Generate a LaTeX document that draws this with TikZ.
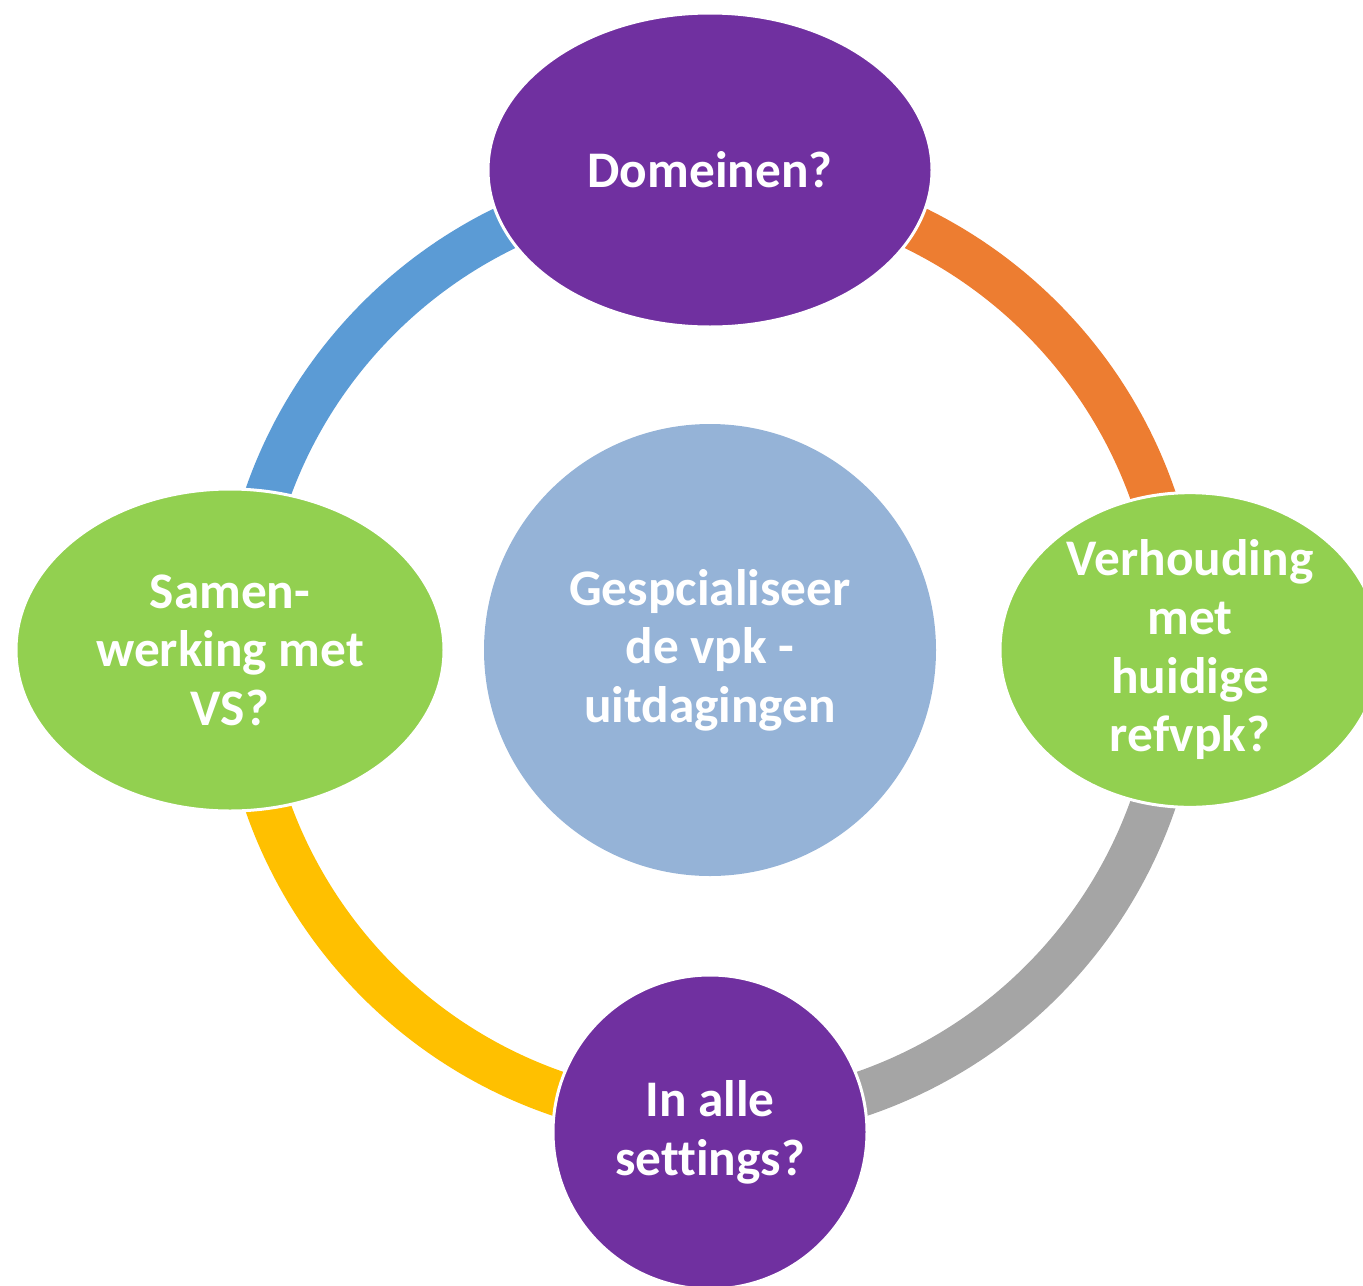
\documentclass[tikz,border=0pt]{standalone}
\usepackage{fontspec}
\setmainfont{Carlito}[Ligatures=NoCommon]
\usepackage{tikz}
\usetikzlibrary{shapes.geometric,backgrounds}

\begin{document}
\begin{tikzpicture}[x=0.75pt,y=0.75pt,yscale=-1,xscale=1,
    blob/.style={ellipse, inner sep=0pt, draw=white, line width=2.25pt, text=white, align=center, font=\bfseries\fontsize{38.5}{44}\selectfont},
    ringarc/.style={line width=33.75pt}]
\useasboundingbox (0,0) rectangle (1363,1285);
\clip (0,0) rectangle (1363,1285);
%Center circle
\node [circle, inner sep=0pt, minimum size=339pt, fill={rgb, 255:red, 149; green, 179; blue, 215 }, text=white, align=center, font=\bfseries\fontsize{38.5}{44}\selectfont] (hub) at (710,650) {Gespcialiseer\\de vpk -\\uitdagingen};
%Ellipse top
\node [blob, fill={rgb, 255:red, 112; green, 48; blue, 160 }, minimum width=333pt, minimum height=235.5pt] (domeinen) at (710,170) {Domeinen?};
%Ellipse left
\node [blob, fill={rgb, 255:red, 146; green, 208; blue, 80 }, minimum width=321pt, minimum height=241.5pt] (samen) at (230,650) {Samen-\\werking met\\VS?};
%Ellipse right
\node [blob, fill={rgb, 255:red, 146; green, 208; blue, 80 }, minimum width=285pt, minimum height=236pt] (verhouding) at (1190,650) {Verhouding\\met\\huidige\\refvpk?};
%Ellipse bottom
\node [blob, fill={rgb, 255:red, 112; green, 48; blue, 160 }, minimum width=235.5pt, minimum height=235.5pt] (settings) at (710,1132) {In alle\\settings?};
%Ring arcs
\begin{scope}[on background layer]
\draw [ringarc, color={rgb, 255:red, 91; green, 155; blue, 213 }] (hub.center) ++(180:469) arc [start angle=180, end angle=270, radius=469];
\draw [ringarc, color={rgb, 255:red, 237; green, 125; blue, 49 }] (hub.center) ++(270:469) arc [start angle=270, end angle=360, radius=469];
\draw [ringarc, color={rgb, 255:red, 165; green, 165; blue, 165 }] (hub.center) ++(0:469) arc [start angle=0, end angle=90, radius=469];
\draw [ringarc, color={rgb, 255:red, 255; green, 192; blue, 0 }] (hub.center) ++(90:469) arc [start angle=90, end angle=180, radius=469];
\end{scope}
\end{tikzpicture}
\end{document}
